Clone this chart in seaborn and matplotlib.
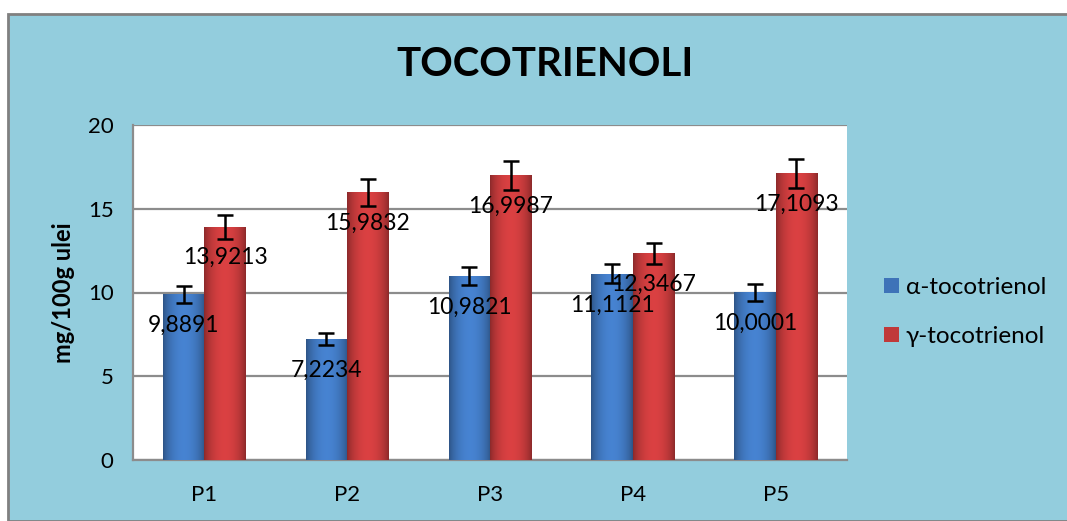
import numpy as np
import pandas as pd
import matplotlib
matplotlib.use("Agg")
import matplotlib.pyplot as plt
import seaborn as sns
from matplotlib.patches import Rectangle

# Data
probe = ["P1", "P2", "P3", "P4", "P5"]
alpha_vals = [9.8891, 7.2234, 10.9821, 11.1121, 10.0001]
gamma_vals = [13.9213, 15.9832, 16.9987, 12.3467, 17.1093]
alpha_err = [0.49, 0.36, 0.55, 0.56, 0.50]
gamma_err = [0.70, 0.80, 0.85, 0.62, 0.86]
series = ["α-tocotrienol", "γ-tocotrienol"]

df = pd.DataFrame({
    "Proba": probe * 2,
    "Valoare": alpha_vals + gamma_vals,
    "Err": alpha_err + gamma_err,
    "Serie": [series[0]] * 5 + [series[1]] * 5,
})

sns.set_style("white")
plt.rcParams["font.family"] = ["Lato", "DejaVu Sans"]
plt.rcParams["text.color"] = "black"
plt.rcParams["xtick.color"] = "black"
plt.rcParams["ytick.color"] = "black"
plt.rcParams["axes.labelcolor"] = "black"

bg = "#93CDDD"
grid_col = "#8C8C8C"
colors = {series[0]: "#3E73B8", series[1]: "#C0393A"}

fig = plt.figure(figsize=(10.67, 5.21), dpi=100)
fig.patch.set_facecolor("white")
# chart area frame (blue, grey edge)
fig.patches.append(Rectangle((7.5 / 1067, 0), 1.1, 1 - 13.5 / 521, transform=fig.transFigure,
                             facecolor=bg, edgecolor="#808080", linewidth=2, zorder=-10))

ax = fig.add_axes([133 / 1067, 1 - 460 / 521, (847 - 133) / 1067, (460 - 125) / 521])
ax.set_facecolor("white")

sns.barplot(data=df, x="Proba", y="Valoare", hue="Serie", palette=colors,
            width=0.58, errorbar=None, ax=ax, legend=False, zorder=3)

# gradient + error bars + labels
n = len(probe)
for i, bar in enumerate(ax.patches[:2 * n]):
    s = 0 if i < n else 1
    k = i % n
    base = np.array(matplotlib.colors.to_rgb(colors[series[s]]))
    x0, w, h = bar.get_x(), bar.get_width(), bar.get_height()
    t = np.linspace(0, 1, 60)
    shade = 0.72 + 0.42 * np.sin(np.pi * t) ** 0.7
    img = np.clip(base[None, None, :] * shade[None, :, None], 0, 1)
    im = ax.imshow(img, extent=[x0, x0 + w, 0, h], aspect="auto", zorder=3.5,
                   interpolation="bicubic")
    im.set_clip_path(bar)
    bar.set_edgecolor("none")
    cx = x0 + w / 2
    err = alpha_err[k] if s == 0 else gamma_err[k]
    ax.errorbar(cx, h, yerr=err, fmt="none", ecolor="black", elinewidth=1.8,
                capsize=5.5, capthick=1.8, zorder=5)
    ax.text(cx, h - 1.85, f"{h:.4f}".replace(".", ","), ha="center", va="center",
            fontsize=16.5, color="black", zorder=6)

ax.set_xlim(-0.5, n - 0.5)
ax.set_ylim(0, 20)
ax.set_yticks([0, 5, 10, 15, 20])
ax.yaxis.grid(True, color=grid_col, linewidth=1.6, zorder=0)
ax.set_axisbelow(True)

for sp in ["top", "right"]:
    ax.spines[sp].set_visible(False)
for sp in ["left", "bottom"]:
    ax.spines[sp].set_color(grid_col)
    ax.spines[sp].set_linewidth(1.6)

ax.set_xticks(np.arange(-0.5, n, 1), minor=True)
ax.tick_params(axis="x", which="major", length=0, labelsize=16, pad=18)
ax.tick_params(axis="x", which="minor", length=6, width=1.6, color=grid_col, direction="out")
ax.tick_params(axis="y", length=6, width=1.6, color=grid_col, labelcolor="black",
               direction="out", labelsize=16, pad=8)
ax.set_xlabel("")
ax.set_ylabel("mg/100g ulei", fontsize=17, fontweight="bold", labelpad=9)

fig.text(545 / 1067, 1 - 65 / 521, "TOCOTRIENOLI", ha="center", va="center",
         fontsize=29, fontweight="bold")

# legend
handles = [Rectangle((0, 0), 1, 1, facecolor=colors[s], edgecolor="none") for s in series]
fig.legend(handles, series, loc="center left", bbox_to_anchor=(884 / 1067, 1 - 312 / 521),
           frameon=False, fontsize=17.5, handlelength=0.6, handleheight=0.6,
           handletextpad=0.3, labelspacing=1.15, borderpad=0, borderaxespad=0)

fig.savefig("out.png", dpi=100, facecolor=fig.get_facecolor())
